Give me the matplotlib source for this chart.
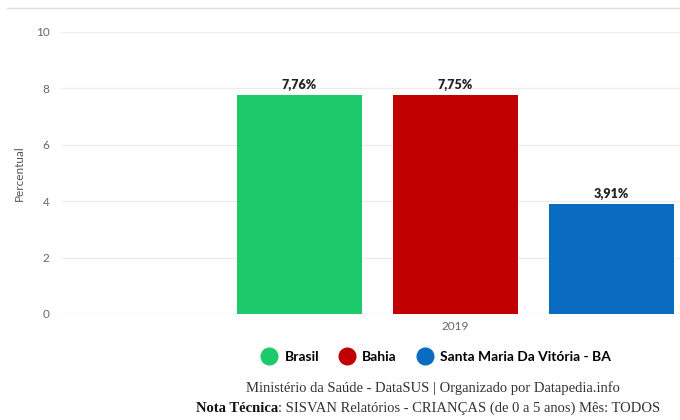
import numpy as np
import matplotlib.pyplot as plt
from matplotlib.lines import Line2D

regions = ["Brasil", "Bahia", "Santa Maria Da Vitória - BA"]
values = [7.76, 7.75, 3.91]
labels = ["7,76%", "7,75%", "3,91%"]
colors = ["#1dc96a", "#c00000", "#0a6cc0"]
year = "2019"
yticks = [0, 2, 4, 6, 8, 10]

W, H = 680, 420
fig = plt.figure(figsize=(W / 100, H / 100), dpi=100)
fig.patch.set_facecolor("white")

# axes placed in pixel units
left, right, bottom, top = 62, 680, 314, 32
ax = fig.add_axes([left / W, 1 - bottom / H, (right - left) / W, (bottom - top) / H])

offsets = np.arange(len(values)) - 1
ax.bar(offsets, values, width=0.8, color=colors, zorder=3)
for x, v, lab in zip(offsets, values, labels):
    ax.text(x, v + 0.15, lab, ha="center", va="bottom", fontsize=9,
            fontweight="heavy", family="Lato", color="#222222")

ax.set_xlim(-2.52, 1.44)
ax.set_ylim(0, 10)
ax.set_yticks(yticks)
ax.set_yticklabels([str(t) for t in yticks], fontsize=8.5, color="#666666", family="Lato")
ax.set_xticks([0])
ax.set_xticklabels([year], fontsize=8.5, color="#666666", family="Lato")
ax.tick_params(axis="y", length=0, pad=9)
ax.tick_params(axis="x", length=0, pad=5)
ax.grid(axis="y", color="#ececec", linewidth=0.9, zorder=0)
for s in ax.spines.values():
    s.set_visible(False)
ax.axhline(0, color="#dddddd", linewidth=0.9, zorder=1)
ax.set_ylabel("Percentual", fontsize=8.5, color="#555555", family="Lato", labelpad=8)

# top separator line
fig.add_artist(Line2D([7 / W, 1], [1 - 8 / H, 1 - 8 / H], color="#dddddd", linewidth=1))

# legend
handles = [Line2D([], [], marker="o", linestyle="none", markersize=12,
                  markerfacecolor=c, markeredgecolor=c) for c in colors]
fig.legend(handles, regions, loc="center", bbox_to_anchor=(433 / W, 1 - 357 / H),
           ncol=3, frameon=False, handletextpad=0.1, columnspacing=1.0,
           prop={"family": "Lato", "weight": "bold", "size": 10})

# footer
fig.text(433 / W, 1 - 388 / H, "Ministério da Saúde - DataSUS | Organizado por Datapedia.info",
         ha="center", va="center", fontsize=10.5, family="Liberation Serif", color="#333333")

fig.canvas.draw()
r = fig.canvas.get_renderer()
t1 = fig.text(0, 1 - 408 / H, "Nota Técnica", fontsize=10.5, fontweight="bold",
              family="Liberation Serif", color="#111111", va="center")
t2 = fig.text(0, 1 - 408 / H, ": SISVAN Relatórios - CRIANÇAS (de 0 a 5 anos) Mês: TODOS",
              fontsize=10.5, family="Liberation Serif", color="#333333", va="center")
w1 = t1.get_window_extent(r).width
w2 = t2.get_window_extent(r).width
x0 = 428 - (w1 + w2) / 2
t1.set_x(x0 / W)
t2.set_x((x0 + w1) / W)

fig.savefig("out.png", dpi=100)
